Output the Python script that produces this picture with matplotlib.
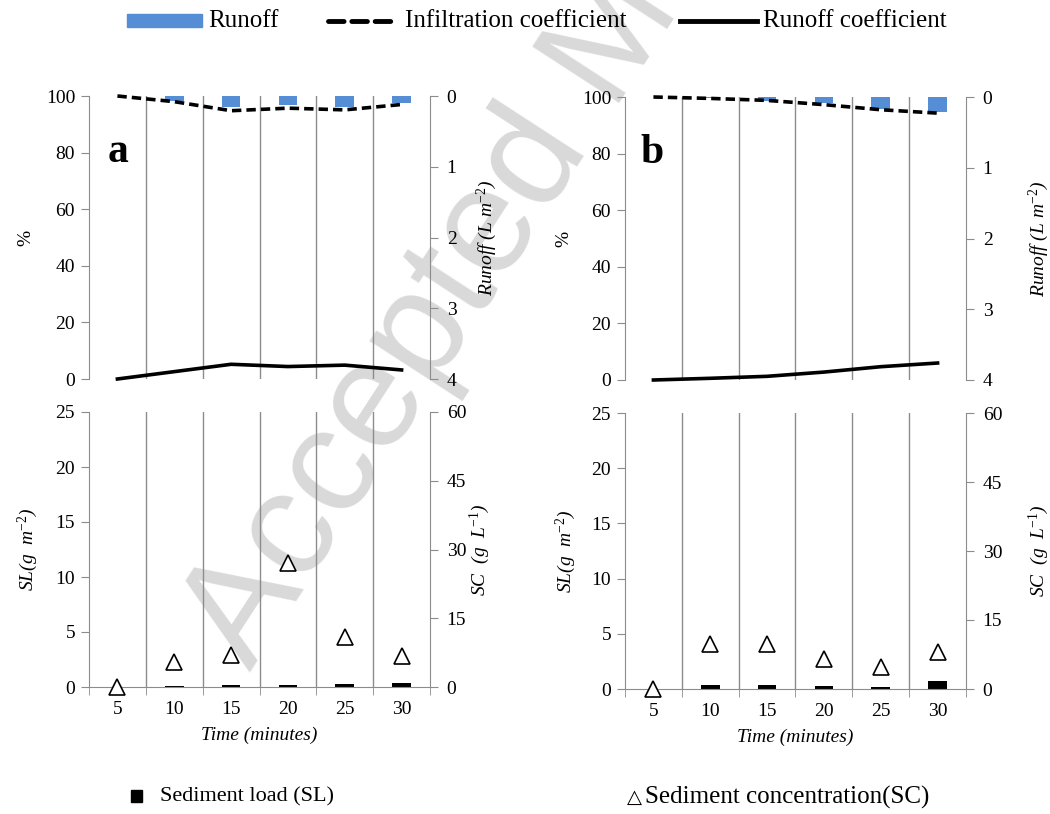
import matplotlib
matplotlib.use("Agg")
import matplotlib.pyplot as plt
from matplotlib.lines import Line2D
from matplotlib.patches import Rectangle

# data
times = ["5", "10", "15", "20", "25", "30"]

# plot a
runoff_a = [0, 0.07, 0.15, 0.13, 0.15, 0.10]        # L m-2
infil_a = [100, 98.0, 94.8, 95.7, 95.1, 97.0]       # %
runcoef_a = [0, 2.6, 5.2, 4.4, 4.9, 3.2]            # %
sl_a = [0, 0.05, 0.15, 0.2, 0.25, 0.35]             # g m-2
sc_a = [0, 5.5, 6.9, 27.0, 11.0, 6.7]               # g L-1

# plot b
runoff_b = [0, 0.02, 0.055, 0.09, 0.165, 0.21]
infil_b = [100, 99.5, 98.8, 97.3, 95.5, 94.3]
runcoef_b = [0, 0.6, 1.3, 2.8, 4.7, 6.0]
sl_b = [0, 0.39, 0.36, 0.24, 0.15, 0.75]
sc_b = [0, 9.8, 9.8, 6.5, 4.8, 8.0]

W, H = 1050, 814
BLUE = "#558ED5"
GRID = "#8c8c8c"

plt.rcParams["font.family"] = ["Liberation Serif", "DejaVu Sans"]
plt.rcParams["mathtext.fontset"] = "custom"
plt.rcParams["mathtext.rm"] = "Liberation Serif"
plt.rcParams["mathtext.it"] = "Liberation Serif:italic"

fig = plt.figure(figsize=(W / 100, H / 100), dpi=100)


def rect(x0, y0, x1, y1):
    # pixel box (from top-left) -> figure fraction
    return [x0 / W, 1 - y1 / H, (x1 - x0) / W, (y1 - y0) / H]


def fx(x):
    return x / W


def fy(y):
    return 1 - y / H


x = list(range(len(times)))
bounds = [i + 0.5 for i in range(len(times) - 1)]


def style_left(ax):
    for s in ["top", "right", "bottom"]:
        ax.spines[s].set_visible(False)
    ax.spines["left"].set_color(GRID)
    ax.tick_params(axis="y", direction="out", length=6, color=GRID, labelsize=14, pad=4)


def style_right(ax):
    for s in ["top", "left", "bottom"]:
        ax.spines[s].set_visible(False)
    ax.spines["right"].set_color(GRID)
    ax.tick_params(axis="y", direction="out", length=6, color=GRID, labelsize=14, pad=6)


def top_panel(box, runoff, infil, runcoef, letter, lx, rx, letx):
    ax = fig.add_axes(box)
    ax2 = ax.twinx()
    ax2.bar(x, runoff, width=0.33, color=BLUE)
    ax2.set_ylim(4, 0)
    ax2.set_yticks([0, 1, 2, 3, 4])
    ax.set_zorder(ax2.get_zorder() + 1)
    ax.patch.set_visible(False)
    ax2.patch.set_visible(False)
    ax.plot(x, infil, color="k", lw=2.6, ls=(0, (2.6, 1.4)), clip_on=False)
    ax.plot(x, runcoef, color="k", lw=2.6, clip_on=False)
    for b in bounds:
        ax.axvline(b, color=GRID, lw=1, zorder=0)
    ax.set_xlim(-0.5, 5.5)
    ax.set_ylim(0, 100)
    ax.set_yticks(range(0, 101, 20))
    ax.set_xticks([])
    style_left(ax)
    style_right(ax2)
    ax.set_ylabel("%", fontsize=14)
    ax.yaxis.set_label_coords(lx, 0.5)
    ax2.set_ylabel("Runoff (L m$^{-2}$)", fontsize=14, style="italic")
    ax2.yaxis.set_label_coords(rx, 0.5)
    ax.text(letx, 0.767, letter, transform=ax.transAxes, fontsize=30,
            fontweight="bold", ha="left", va="baseline")


def bottom_panel(box, sl, sc, lx, rx):
    ax = fig.add_axes(box)
    ax2 = ax.twinx()
    ax.patch.set_visible(False)
    ax2.patch.set_visible(False)
    ax.bar(x, sl, width=0.33, color="black", zorder=2)
    ax2.plot(x, sc, ls="none", marker="^", ms=12, mfc="white", mec="black",
             mew=1.2, clip_on=False, zorder=3)
    for b in bounds:
        ax.axvline(b, color=GRID, lw=1, zorder=0)
    ax.set_xlim(-0.5, 5.5)
    ax.set_ylim(0, 25)
    ax.set_yticks(range(0, 26, 5))
    ax2.set_ylim(0, 60)
    ax2.set_yticks(range(0, 61, 15))
    style_left(ax)
    style_right(ax2)
    ax.spines["bottom"].set_visible(True)
    ax.spines["bottom"].set_color(GRID)
    ax.set_xticks(x, times)
    ax.set_xticks([-0.5] + bounds + [5.5], minor=True)
    ax.tick_params(axis="x", which="major", length=0, labelsize=14, pad=10)
    ax.tick_params(axis="x", which="minor", direction="out", length=6, color=GRID)
    ax.set_xlabel("Time (minutes)", fontsize=14, style="italic", labelpad=6)
    ax.set_ylabel("SL(g  m$^{-2}$)", fontsize=14, style="italic")
    ax.yaxis.set_label_coords(lx, 0.5)
    ax2.set_ylabel("SC  (g  L$^{-1}$)", fontsize=14, style="italic")
    ax2.yaxis.set_label_coords(rx, 0.5)


top_panel(rect(89, 96, 430, 379), runoff_a, infil_a, runcoef_a, "a", -0.16, 1.13, 0.056)
top_panel(rect(625, 97, 966, 380), runoff_b, infil_b, runcoef_b, "b", -0.155, 1.178, 0.044)
bottom_panel(rect(89, 412, 430, 687), sl_a, sc_a, -0.144, 1.11)
bottom_panel(rect(625, 413, 966, 689), sl_b, sc_b, -0.137, 1.178)

# top legend
fig.add_artist(Rectangle((fx(127), fy(27)), fx(202) - fx(127), fy(14) - fy(27),
                         transform=fig.transFigure, color=BLUE))
fig.text(fx(208), fy(21), "Runoff", fontsize=18, va="center")
fig.add_artist(Line2D([fx(328), fx(393)], [fy(21), fy(21)], transform=fig.transFigure,
                      color="k", lw=3.5, ls=(0, (3.2, 1.6)), dash_capstyle="round"))
fig.text(fx(405), fy(21), "Infiltration coefficient", fontsize=18, va="center")
fig.add_artist(Line2D([fx(680), fx(757)], [fy(21), fy(21)], transform=fig.transFigure,
                      color="k", lw=3.5))
fig.text(fx(763), fy(21), "Runoff coefficient", fontsize=18, va="center")

# bottom legend
fig.add_artist(Rectangle((fx(131), fy(802)), fx(142) - fx(131), fy(790) - fy(802),
                         transform=fig.transFigure, color="black"))
fig.text(fx(160), fy(797), "Sediment load (SL)", fontsize=16, va="center")
fig.text(fx(627), fy(797), "\u25b3", fontsize=14, va="center", family="DejaVu Sans")
fig.text(fx(645), fy(797), "Sediment concentration(SC)", fontsize=18, va="center")

# watermark
fig.text(fx(250), fy(672), "Accepted Manuscript", rotation=57, rotation_mode="anchor",
         ha="left", va="baseline", fontsize=108, color="#d9d9d9",
         family="Liberation Sans", zorder=-1)

fig.savefig("out.png", dpi=100)
